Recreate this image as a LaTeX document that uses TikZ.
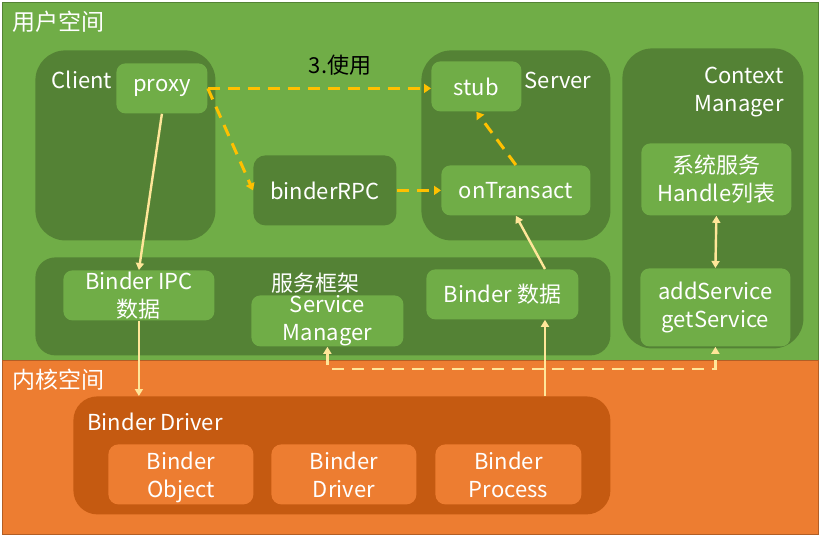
\documentclass[tikz,border=0pt]{standalone}
\usepackage{fontspec}
\setmainfont{Noto Sans CJK SC}
\usetikzlibrary{arrows.meta}
\definecolor{ugreen}{HTML}{70AD47}
\definecolor{dgreen}{HTML}{548235}
\definecolor{korange}{HTML}{ED7D31}
\definecolor{dorange}{HTML}{C55A11}
\definecolor{callcol}{HTML}{FFC000}
\definecolor{datacol}{HTML}{FFE699}

\begin{document}
\begin{tikzpicture}[x=0.5pt, y=-0.5pt,
  every node/.style={text=white, font=\fontsize{11}{14}\selectfont, align=center, inner sep=0pt},
  space/.style={anchor=north west, draw=#1!75!black, line width=0.4pt, fill=#1},
  grp/.style={anchor=north west, fill=dgreen, rounded corners=15pt},
  itm/.style={anchor=north west, fill=ugreen, rounded corners=4.5pt},
  kgrp/.style={anchor=north west, fill=dorange, rounded corners=15pt},
  kitm/.style={anchor=north west, fill=korange, rounded corners=5pt, text depth=0pt},
  call/.style={draw=callcol, line width=1.5pt, dash pattern=on 6pt off 4pt, -{Triangle[length=3.5pt, width=4.5pt]}},
  data/.style={draw=datacol, line width=1.2pt, -{Triangle[length=3.5pt, width=4pt]}},
  reg/.style={draw=datacol, line width=1.2pt, dash pattern=on 6pt off 4pt, {Triangle[length=3.5pt, width=4pt]}-{Triangle[length=3.5pt, width=4pt]}}
]
\useasboundingbox (0,0) rectangle (820,536);
% two spaces
\node[space=ugreen, minimum width=408pt, minimum height=179pt] (user) at (2,2) {};
\node[space=korange, minimum width=408pt, minimum height=87pt] (kernel) at (2,360) {};
\node[font=\fontsize{11.5}{14}\selectfont] (userlbl) at (58,22) {用户空间};
\node[font=\fontsize{11.5}{14}\selectfont] (kernlbl) at (58,380) {内核空间};

% user space
\node[grp, minimum width=90pt, minimum height=95pt] (client) at (35,50) {};
\node (clientlbl) at (82,80) {Client};
\node[itm, minimum width=45.5pt, minimum height=25pt] (proxy) at (116,63) {proxy};
\node[grp, rounded corners=6pt, minimum width=71.5pt, minimum height=35pt] (rpc) at (253,155) {binderRPC};
\node[grp, minimum width=94.5pt, minimum height=95pt] (server) at (421,50) {};
\node (serverlbl) at (558,80) {Server};
\node[itm, minimum width=45pt, minimum height=25pt] (stub) at (431,61) {stub};
\node[itm, minimum width=74.5pt, minimum height=25pt] (ontr) at (441,165) {onTransact};
\node[grp, minimum width=90.5pt, minimum height=150pt] (ctx) at (622,48) {};
\node[anchor=east, align=right] (ctxlbl) at (784,92) {Context\\Manager};
\node[itm, minimum width=75pt, minimum height=36pt] (hlist) at (641,143) {系统服务\\Handle列表};
\node[itm, minimum width=75pt, minimum height=39pt] (addsvc) at (640,268) {addService\\getService};
\node[grp, rounded corners=10pt, minimum width=287.5pt, minimum height=49pt] (frame) at (35,257) {};
\node (framelbl) at (315,283) {服务框架};
\node[itm, minimum width=75.5pt, minimum height=25pt] (ipc) at (63,270) {Binder IPC\\数据};
\node[itm, minimum width=76pt, minimum height=25.5pt] (sm) at (251,295) {Service\\Manager};
\node[itm, minimum width=76pt, minimum height=25pt] (bdata) at (426,269) {Binder 数据};

% kernel space
\node[kgrp, rounded corners=12pt, minimum width=268.5pt, minimum height=59pt] (driver) at (73,396) {};
\node (driverlbl) at (155,422) {Binder Driver};
\node[kitm, minimum width=72.5pt, minimum height=30pt] (bobj) at (108,444) {Binder\\Object};
\node[kitm, minimum width=72.5pt, minimum height=30pt] (bdrv) at (271,444) {Binder\\Driver};
\node[kitm, minimum width=73pt, minimum height=30pt] (bproc) at (435,444) {Binder\\Process};

% connectors
\draw[call] (proxy.east) -- (proxy.east -| stub.west);
\node[text=black] (uselbl) at (340,65) {3.使用};
\draw[call] (proxy.east) -- (rpc.west);
\draw[call] (rpc.east) -- (ontr.west);
\draw[call] (ontr.north) -- (stub.south);
\draw[data] (proxy.south) -- (ipc.north);
\draw[data] (ipc.south) -- (ipc.south |- driver.north);
\coordinate (up) at (545,396);
\draw[data] (up) -- (up |- bdata.south);
\draw[data] (bdata.north -| up) -- (ontr.south);
\draw[data, {Triangle[length=3.5pt, width=4pt]}-{Triangle[length=3.5pt, width=4pt]}] (hlist.south) -- (addsvc.north);
\draw[reg] (sm.south) -- ++(0,22) -| (addsvc.south);
\end{tikzpicture}
\end{document}
